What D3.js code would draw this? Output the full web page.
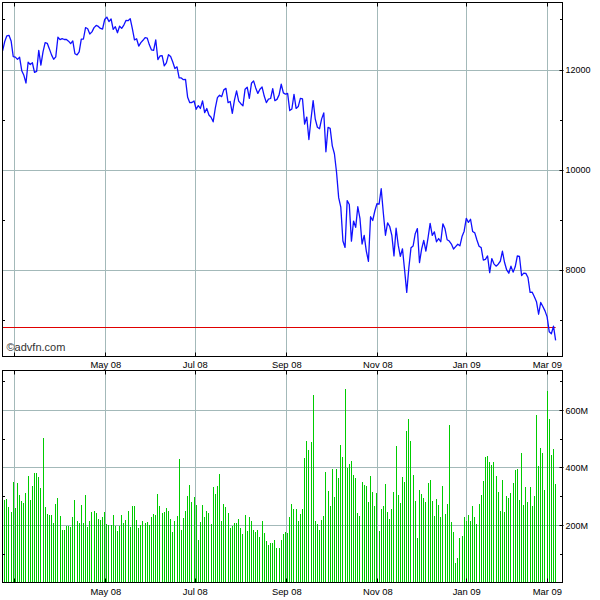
<!DOCTYPE html>
<html><head><meta charset="utf-8">
<script src="https://cdn.jsdelivr.net/npm/d3@7"></script>
<style>body{margin:0;background:#fff} svg{display:block}</style>
</head><body><svg id="c" width="600" height="600"></svg>
<script>
// Daily closes, 22 Feb 2008 .. 5 Mar 2009 (one per trading day)
const closes = [
12381,12570,12684,12694,12582,12266,12258,12213,12254,11987,
11894,11740,12156,12110,12145,11951,11972,12392,12099,12361,
12548,12533,12422,12302,12216,12263,12655,12608,12627,12610,
12612,12577,12527,12582,12325,12302,12362,12619,12620,12849,
12825,12720,12763,12848,12891,12871,12832,12820,13010,13058,
12969,13020,12814,12866,12745,12876,12832,12898,12992,12986,
13028,12828,12601,12625,12479,12548,12594,12647,12638,12503,
12402,12391,12604,12209,12280,12289,12084,12141,12307,12269,
12160,12029,12063,11843,11842,11807,11811,11453,11346,11350,
11382,11215,11288,11231,11384,11147,11229,11100,11055,10963,
11239,11446,11496,11467,11603,11632,11349,11370,11131,11397,
11584,11378,11326,11284,11616,11656,11432,11734,11782,11642,
11532,11615,11659,11479,11348,11417,11430,11628,11386,11413,
11502,11715,11543,11516,11532,11188,11220,11511,11231,11268,
11434,11421,10917,11059,10609,11019,11388,11016,10855,10825,
11022,11143,10365,10851,10831,10483,10325,9955,9447,9258,
8579,8451,9387,9310,8577,8979,8852,9265,9034,8519,
8691,8378,8175,9065,8990,9180,9325,9319,9625,9139,
8695,8943,8870,8694,8283,8835,8497,8273,8424,7997,
7552,8046,8443,8480,8727,8829,8149,8419,8592,8376,
8636,8934,8691,8762,8565,8629,8565,8924,8824,8605,
8579,8519,8419,8468,8515,8483,8668,8776,9034,8952,
9015,8769,8742,8599,8474,8448,8200,8212,8281,7949,
8228,8123,8077,8116,8175,8375,8149,8001,7936,8078,
7957,8063,8280,8270,7889,7939,7933,7850,7553,7556,
7466,7366,7115,7351,7271,7183,7063,6763,6726,6876,
6594];

// Daily volume, millions
const volumes = [
290,288,291,265,246,351,260,347,305,284,
277,312,371,288,337,381,381,368,330,504,
263,239,236,236,208,274,295,232,183,183,
197,197,194,229,288,215,208,271,208,305,
194,215,246,250,243,222,218,230,246,204,
200,200,236,197,180,197,236,208,218,250,
194,267,267,218,191,201,215,208,211,201,
229,239,236,309,267,243,246,260,250,222,
177,215,232,431,183,225,250,302,340,281,
298,270,149,210,271,230,250,242,204,334,
309,337,378,215,274,264,243,191,197,208,
208,222,191,170,236,180,229,215,183,177,
183,159,215,173,145,131,138,138,149,121,
121,149,170,177,173,229,274,257,257,215,
239,257,434,493,462,490,653,215,204,183,
218,232,385,319,267,396,298,396,365,479,
438,674,399,413,424,375,365,243,232,351,
340,337,281,371,316,267,312,180,257,267,
344,246,222,257,316,476,305,277,368,351,
528,570,493,375,284,156,323,309,295,281,
347,357,284,232,291,271,229,337,239,274,
549,211,177,69,86,156,163,229,215,236,
215,267,229,204,274,305,354,438,441,420,
410,420,371,316,250,357,246,302,295,312,
347,392,396,288,452,271,333,281,333,267,
302,584,406,469,452,323,667,570,445,465,
344];

const priceTicks = [8000, 10000, 12000];
const priceMinor = [7000, 9000, 11000, 13000];
const volTicks = [200, 400, 600];
const volMinor = [100, 300, 500, 700];
const monthPos = [5.5, 48.5, 90.6, 133.6, 176.4, 218.2, 256.1];
const monthLabels = ["Mar 08","May 08","Jul 08","Sep 08","Nov 08","Jan 09","Mar 09"];
const refLevel = 6860;

const svg = d3.select('#c');
const L = 2.5, R = 562.5, T1 = 2.5, B1 = 356.5, T2 = 370.5, B2 = 582.5;
const gridCol = "#a3b9b9";
const font = "'Liberation Sans', Arial, sans-serif";

const x = d3.scaleLinear().domain([0, closes.length - 1]).range([2.6, 2.6 + (closes.length - 1) * 2.127]);
const yP = d3.scaleLinear().domain([6280, 13360]).range([356, 2]);
const yV = d3.scaleLinear().domain([0, 740]).range([582.8, 370]);
const px = v => Math.floor(v) + 0.5;

svg.append("rect").attr("width", 600).attr("height", 600).attr("fill", "#fff");

const defs = svg.append("defs");
defs.append("clipPath").attr("id", "cp1").append("rect").attr("x", L).attr("y", T1).attr("width", R - L).attr("height", B1 - T1);
defs.append("clipPath").attr("id", "cp2").append("rect").attr("x", L + 0.5).attr("y", T2).attr("width", R - L - 0.5).attr("height", B2 - T2);

function panelGrid(yScale, ticks, top, bottom) {
  const g = svg.append("g");
  g.selectAll("line.h").data(ticks).join("line")
    .attr("x1", L).attr("x2", R)
    .attr("y1", d => px(yScale(d))).attr("y2", d => px(yScale(d)))
    .attr("stroke", gridCol).attr("stroke-width", 1);
  g.selectAll("line.v").data(monthPos).join("line")
    .attr("x1", d => px(x(d))).attr("x2", d => px(x(d)))
    .attr("y1", top).attr("y2", bottom)
    .attr("stroke", gridCol).attr("stroke-width", 1);
}
panelGrid(yP, priceTicks, T1, B1);
panelGrid(yV, volTicks, T2, B2);

// volume bars
svg.append("g").attr("clip-path", "url(#cp2)")
  .selectAll("line").data(volumes).join("line")
  .attr("x1", (d, i) => px(x(i))).attr("x2", (d, i) => px(x(i)))
  .attr("y1", yV(0)).attr("y2", d => Math.round(yV(d)))
  .attr("stroke", "#00cc00").attr("stroke-width", 1);

// reference line
svg.append("line")
  .attr("x1", L).attr("x2", x(closes.length - 1))
  .attr("y1", px(yP(refLevel))).attr("y2", px(yP(refLevel)))
  .attr("stroke", "#e00000").attr("stroke-width", 1);

// price line
svg.append("path").attr("clip-path", "url(#cp1)")
  .datum(closes)
  .attr("d", d3.line().x((d, i) => x(i)).y(d => yP(d)))
  .attr("fill", "none").attr("stroke", "#1010ff").attr("stroke-width", 1.3)
  .attr("stroke-linejoin", "round");

// borders
[[T1, B1], [T2, B2]].forEach(([t, b]) => {
  svg.append("rect").attr("x", L).attr("y", t).attr("width", R - L).attr("height", b - t)
    .attr("fill", "none").attr("stroke", "#000").attr("stroke-width", 1);
  // month ticks inside top/bottom
  svg.append("g").selectAll("line").data(monthPos).join("line")
    .attr("x1", d => px(x(d))).attr("x2", d => px(x(d)))
    .attr("y1", b - 4).attr("y2", b).attr("stroke", "#000");
  svg.append("g").selectAll("line").data(monthPos).join("line")
    .attr("x1", d => px(x(d))).attr("x2", d => px(x(d)))
    .attr("y1", t).attr("y2", t + 4).attr("stroke", "#000");
});

function sideTicks(yScale, major, minor, fmt) {
  const g = svg.append("g");
  g.selectAll("line.mj").data(major).join("line")
    .attr("x1", R - 3).attr("x2", R + 1)
    .attr("y1", d => px(yScale(d))).attr("y2", d => px(yScale(d))).attr("stroke", "#000");
  g.selectAll("line.mnr").data(minor).join("line")
    .attr("x1", R - 2.5).attr("x2", R)
    .attr("y1", d => px(yScale(d))).attr("y2", d => px(yScale(d))).attr("stroke", "#000");
  g.selectAll("line.mnl").data(minor).join("line")
    .attr("x1", L).attr("x2", L + 2.5)
    .attr("y1", d => px(yScale(d))).attr("y2", d => px(yScale(d))).attr("stroke", "#000");
  g.selectAll("text").data(major).join("text")
    .attr("x", 565.5).attr("y", d => yScale(d) + 3.4)
    .attr("font-family", font).attr("font-size", 9).attr("fill", "#000")
    .text(fmt);
}
sideTicks(yP, priceTicks, priceMinor, d => String(d));
sideTicks(yV, volTicks, volMinor, d => d + "M");

// month labels
[367.6, 594.6].forEach(yy => {
  const g = svg.append("g");
  g.selectAll("text").data(monthPos).join("text")
    .attr("x", d => x(d)).attr("y", yy)
    .attr("text-anchor", "middle")
    .attr("font-family", font).attr("font-size", 9.4).attr("fill", "#000")
    .text((d, i) => monthLabels[i])
    .each(function(d) {
      const w = this.getComputedTextLength();
      if (x(d) - w / 2 < 1) d3.select(this).remove();
    });
});

// watermark
svg.append("text").attr("x", 6.5).attr("y", 351)
  .attr("font-family", font).attr("font-size", 11).attr("fill", "#333")
  .text("©advfn.com");
</script>
</body></html>
